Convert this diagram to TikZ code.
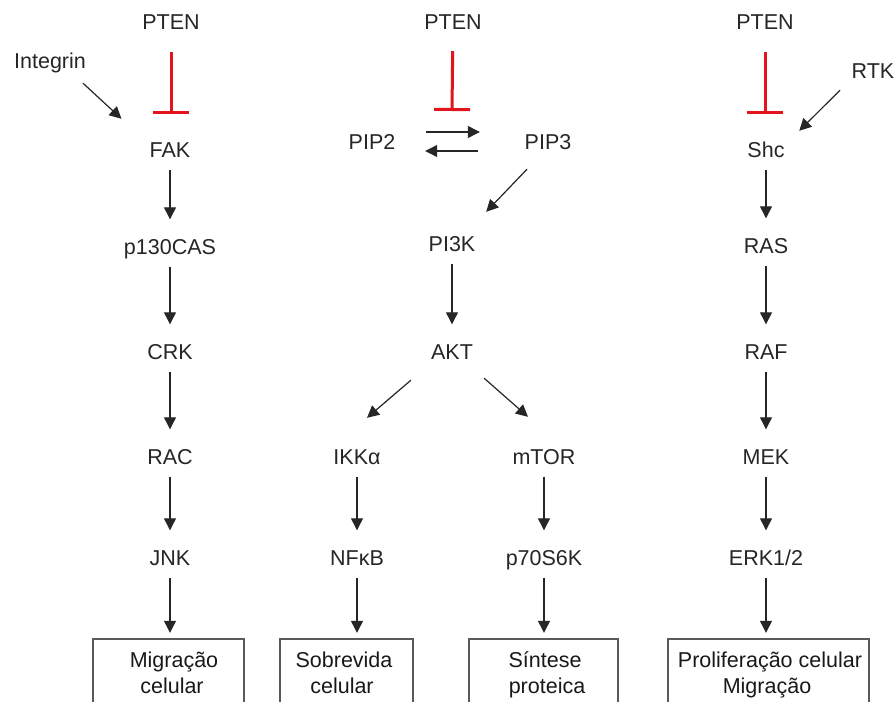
\documentclass[tikz,border=0pt]{standalone}
\usepackage{fontspec}
\setmainfont{Liberation Sans}
\usetikzlibrary{arrows.meta}
\definecolor{ink}{HTML}{262626}
\definecolor{inhib}{HTML}{E3141C}
\definecolor{framegray}{HTML}{5A5A5A}
\begin{document}
\begin{tikzpicture}[x=1pt,y=-1pt,
  mol/.style={font=\fontsize{21.5}{26}\selectfont, text=ink, inner xsep=2pt,
              inner ysep=11pt, text height=15pt, text depth=0pt},
  act/.style={draw=ink, line width=1.2pt, -{Triangle[length=12pt,width=12pt]},
              shorten <=1pt, shorten >=9pt},
  diag/.style={act, shorten <=0pt, shorten >=0pt},
  block/.style={draw=inhib, line width=3pt, -{Bar[width=36pt,line width=3pt]}},
  outcome/.style={minimum width=#1, minimum height=66pt, inner sep=0pt},
  otext/.style={font=\fontsize{21.5}{26}\selectfont, text=black!90, inner sep=0pt, anchor=base},
  outline/.style={draw=framegray, line width=1.5pt}]

\fill[white] (0,0) rectangle (896,701);
\useasboundingbox (0,0) rectangle (896,701);

% ---- FAK branch ----
\node[mol] (pten1) at (171,22) {PTEN};
\node[mol] (integrin) at (50,61) {Integrin};
\node[mol] (fak) at (170,150) {FAK};
\node[mol] (p130) at (170,247) {p130CAS};
\node[mol] (crk) at (170,352) {CRK};
\node[mol] (rac) at (170,457) {RAC};
\node[mol] (jnk) at (170,558) {JNK};
\node[outcome=151pt] (b1) at (168.5,672) {};

% ---- PI3K branch ----
\node[mol] (pten2) at (453,22) {PTEN};
\coordinate (pipc) at (452,111);
\node[mol] (pip2) at (372,142) {PIP2};
\node[mol] (pip3) at (548,142) {PIP3};
\node[mol] (pi3k) at (452,244) {PI3K};
\node[mol] (akt) at (452,352) {AKT};
\node[mol] (ikk) at (357,457) {IKKα};
\node[mol] (nfkb) at (357,558) {NFκB};
\node[mol] (mtor) at (544,457) {mTOR};
\node[mol] (p70) at (544,558) {p70S6K};
\node[outcome=133pt] (b2) at (346.5,672) {};
\node[outcome=149pt] (b3) at (543.5,672) {};

% ---- Shc branch ----
\node[mol] (pten3) at (765,22) {PTEN};
\node[mol] (rtk) at (873,71) {RTK};
\node[mol] (shc) at (766,150) {Shc};
\node[mol] (ras) at (766,246) {RAS};
\node[mol] (raf) at (766,352) {RAF};
\node[mol] (mek) at (766,457) {MEK};
\node[mol] (erk) at (766,558) {ERK1/2};
\node[outcome=201pt] (b4) at (768.5,672) {};

% inhibition by PTEN
\draw[block, shorten <=11.5pt, shorten >=17pt] (pten1) -- (pten1 |- fak.north);
\draw[block, shorten <=10.5pt] (pten2) -- (pipc);
\draw[block, shorten <=11.5pt, shorten >=17pt] (pten3) -- (pten3 |- shc.north);

% FAK cascade
\draw[diag] ([xshift=33pt,yshift=-3.5pt]integrin.south) -- ([xshift=-26pt,yshift=12.5pt]fak.north west);
\draw[act] (fak) -- (p130);
\draw[act] (p130) -- (crk);
\draw[act] (crk) -- (rac);
\draw[act] (rac) -- (jnk);
\draw[act, shorten >=6pt] (jnk) -- (b1.north -| jnk);

% PIP2 / PIP3 equilibrium and PI3K cascade
\draw[diag] ([xshift=28.7pt,yshift=10pt]pip2.east) -- ([xshift=-42.7pt,yshift=10pt]pip3.west);
\draw[diag] ([xshift=-44.7pt,yshift=-9pt]pip3.west) -- ([xshift=27.7pt,yshift=-9pt]pip2.east);
\draw[diag] ([xshift=-21pt,yshift=-8.5pt]pip3.south) -- ([xshift=8.7pt,yshift=13.5pt]pi3k.north east);
\draw[act] (pi3k) -- (akt);
\draw[diag] ([xshift=-18pt,yshift=-9.5pt]akt.south west) -- ([xshift=10pt,yshift=20.5pt]ikk.north);
\draw[diag] ([xshift=9pt,yshift=-7.5pt]akt.south east) -- ([xshift=-16pt,yshift=21.5pt]mtor.north);
\draw[act] (ikk) -- (nfkb);
\draw[act] (mtor) -- (p70);
\draw[act, shorten >=6pt] (nfkb) -- (b2.north -| nfkb);
\draw[act, shorten >=6pt] (p70) -- (b3.north -| p70);

% Shc cascade
\draw[diag] ([xshift=-33pt,yshift=-0.5pt]rtk.south) -- ([xshift=12.5pt,yshift=0.5pt]shc.north east);
\draw[act] (shc) -- (ras);
\draw[act] (ras) -- (raf);
\draw[act] (raf) -- (mek);
\draw[act] (mek) -- (erk);
\draw[act, shorten >=6pt] (erk) -- (b4.north -| erk);

% outcome boxes (open at the lower edge)
\foreach \b in {b1,b2,b3,b4}
  \draw[outline] (\b.south west) -- (\b.north west) -- (\b.north east) -- (\b.south east);

\node[otext] (t1a) at (174,667) {Migração};
\node[otext] (t1b) at (172,693) {celular};
\node[otext] (t2a) at (344,667) {Sobrevida};
\node[otext] (t2b) at (342,693) {celular};
\node[otext] (t3a) at (545,667) {Síntese};
\node[otext] (t3b) at (547,693) {proteica};
\node[otext] (t4a) at (770,667) {Proliferação celular};
\node[otext] (t4b) at (767,693) {Migração};
\end{tikzpicture}
\end{document}
